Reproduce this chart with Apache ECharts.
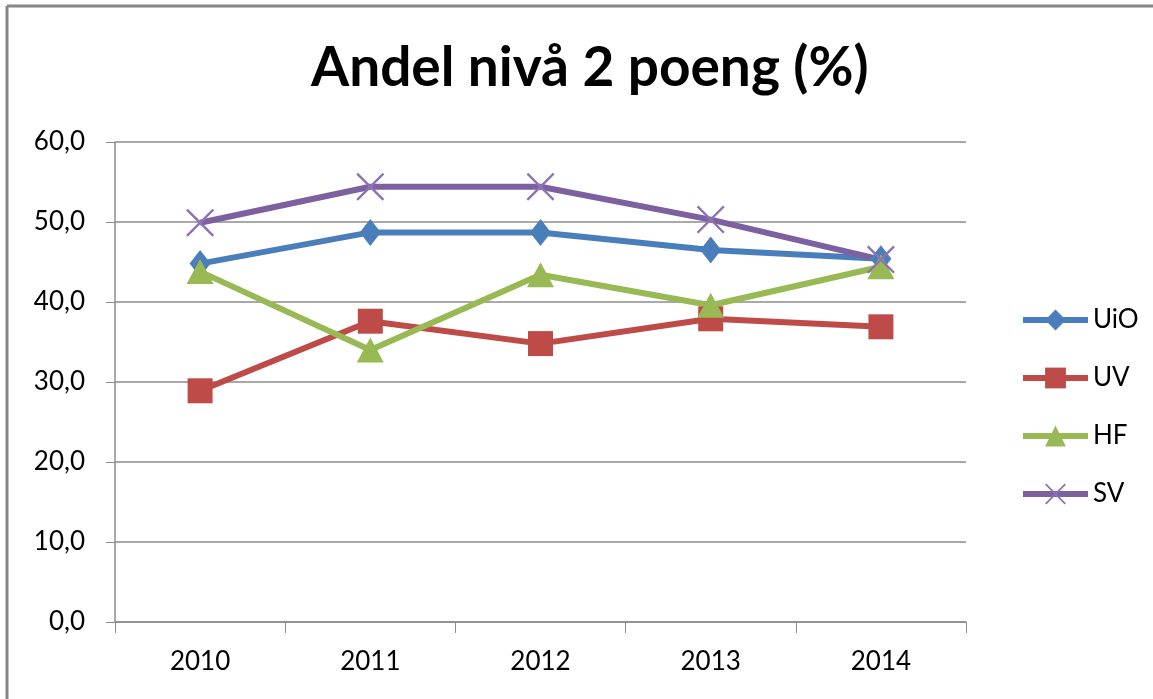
<!DOCTYPE html>
<html>
<head>
<meta charset="utf-8">
<title>Andel nivå 2 poeng (%)</title>
<script src="https://cdn.jsdelivr.net/npm/echarts@6/dist/echarts.min.js"></script>
<style>
  html, body { margin: 0; padding: 0; background: #fff; }
  #main { width: 1153px; height: 699px; }
</style>
</head>
<body>
<div id="main"></div>
<script>
var years = ['2010', '2011', '2012', '2013', '2014']

var uio = [44.8, 48.7, 48.7, 46.5, 45.4]
var uv = [28.9, 37.6, 34.8, 37.9, 36.9]
var hf = [43.8, 34.0, 43.4, 39.6, 44.4]
var sv = [49.9, 54.4, 54.4, 50.3, 45.3]

// thin "x" marker, like the one excel uses
var crossPath = 'path://M0,0.6 L0.6,0 L10,9.4 L9.4,10 Z M9.4,0 L10,0.6 L0.6,10 L0,9.4 Z'
var fontName = 'Lato'

var myChart = echarts.init(document.getElementById('main'))

function makeSeries(name, data, color, symbol, size, symColor) {
  return {
    name: name,
    type: 'line',
    data: data,
    symbol: symbol,
    symbolSize: size,
    showAllSymbol: true,
    lineStyle: { color: color, width: 6 },
    itemStyle: { color: symColor || color },
    emphasis: { disabled: true },
    animation: false
  }
}

var option = {
  backgroundColor: '#fff',
  title: {
    text: 'Andel nivå 2 poeng (%)',
    left: 306,
    top: 36,
    textStyle: { fontFamily: fontName, fontWeight: 'bold', fontSize: 55, color: '#000' }
  },
  legend: {
    orient: 'vertical',
    left: 1015,
    top: 302,
    itemWidth: 65,
    itemHeight: 26,
    itemGap: 32,
    lineStyle: { width: 6 },
    textStyle: { fontFamily: fontName, fontSize: 26, color: '#000', padding: [0, 0, 0, 0] },
    data: ['UiO', 'UV', 'HF', 'SV']
  },
  grid: { left: 115, right: 187, top: 142, bottom: 77, containLabel: false },
  xAxis: {
    type: 'category',
    data: years,
    boundaryGap: true,
    axisLine: { lineStyle: { color: '#8c8c8c', width: 1.5 } },
    axisTick: { show: true, length: 11, lineStyle: { color: '#8c8c8c' } },
    axisLabel: { margin: 27, fontFamily: fontName, fontSize: 26, color: '#000' }
  },
  yAxis: {
    type: 'value',
    min: 0,
    max: 60,
    interval: 10,
    axisLine: { show: true, lineStyle: { color: '#8c8c8c', width: 1.5 } },
    axisTick: { show: true, length: 9, lineStyle: { color: '#8c8c8c' } },
    axisLabel: {
      margin: 30,
      fontFamily: fontName,
      fontSize: 26,
      color: '#000',
      formatter: function(v) { return v.toFixed(1).replace('.', ',') }
    },
    splitLine: { lineStyle: { color: '#8c8c8c', width: 1.5 } }
  },
  series: [
    makeSeries('UiO', uio, '#4A7EBB', 'diamond', [21, 27]),
    makeSeries('UV', uv, '#BE4B48', 'rect', 25),
    makeSeries('HF', hf, '#98B954', 'triangle', [27, 25]),
    makeSeries('SV', sv, '#7D60A0', crossPath, 28, '#8D72B4')
  ],
  graphic: [
    { type: 'line', shape: { x1: 7, y1: 6, x2: 1153, y2: 6 }, style: { stroke: '#868686', lineWidth: 3 } },
    { type: 'line', shape: { x1: 7, y1: 6, x2: 7, y2: 699 }, style: { stroke: '#868686', lineWidth: 3 } }
  ]
}

myChart.setOption(option)
</script>
</body>
</html>
